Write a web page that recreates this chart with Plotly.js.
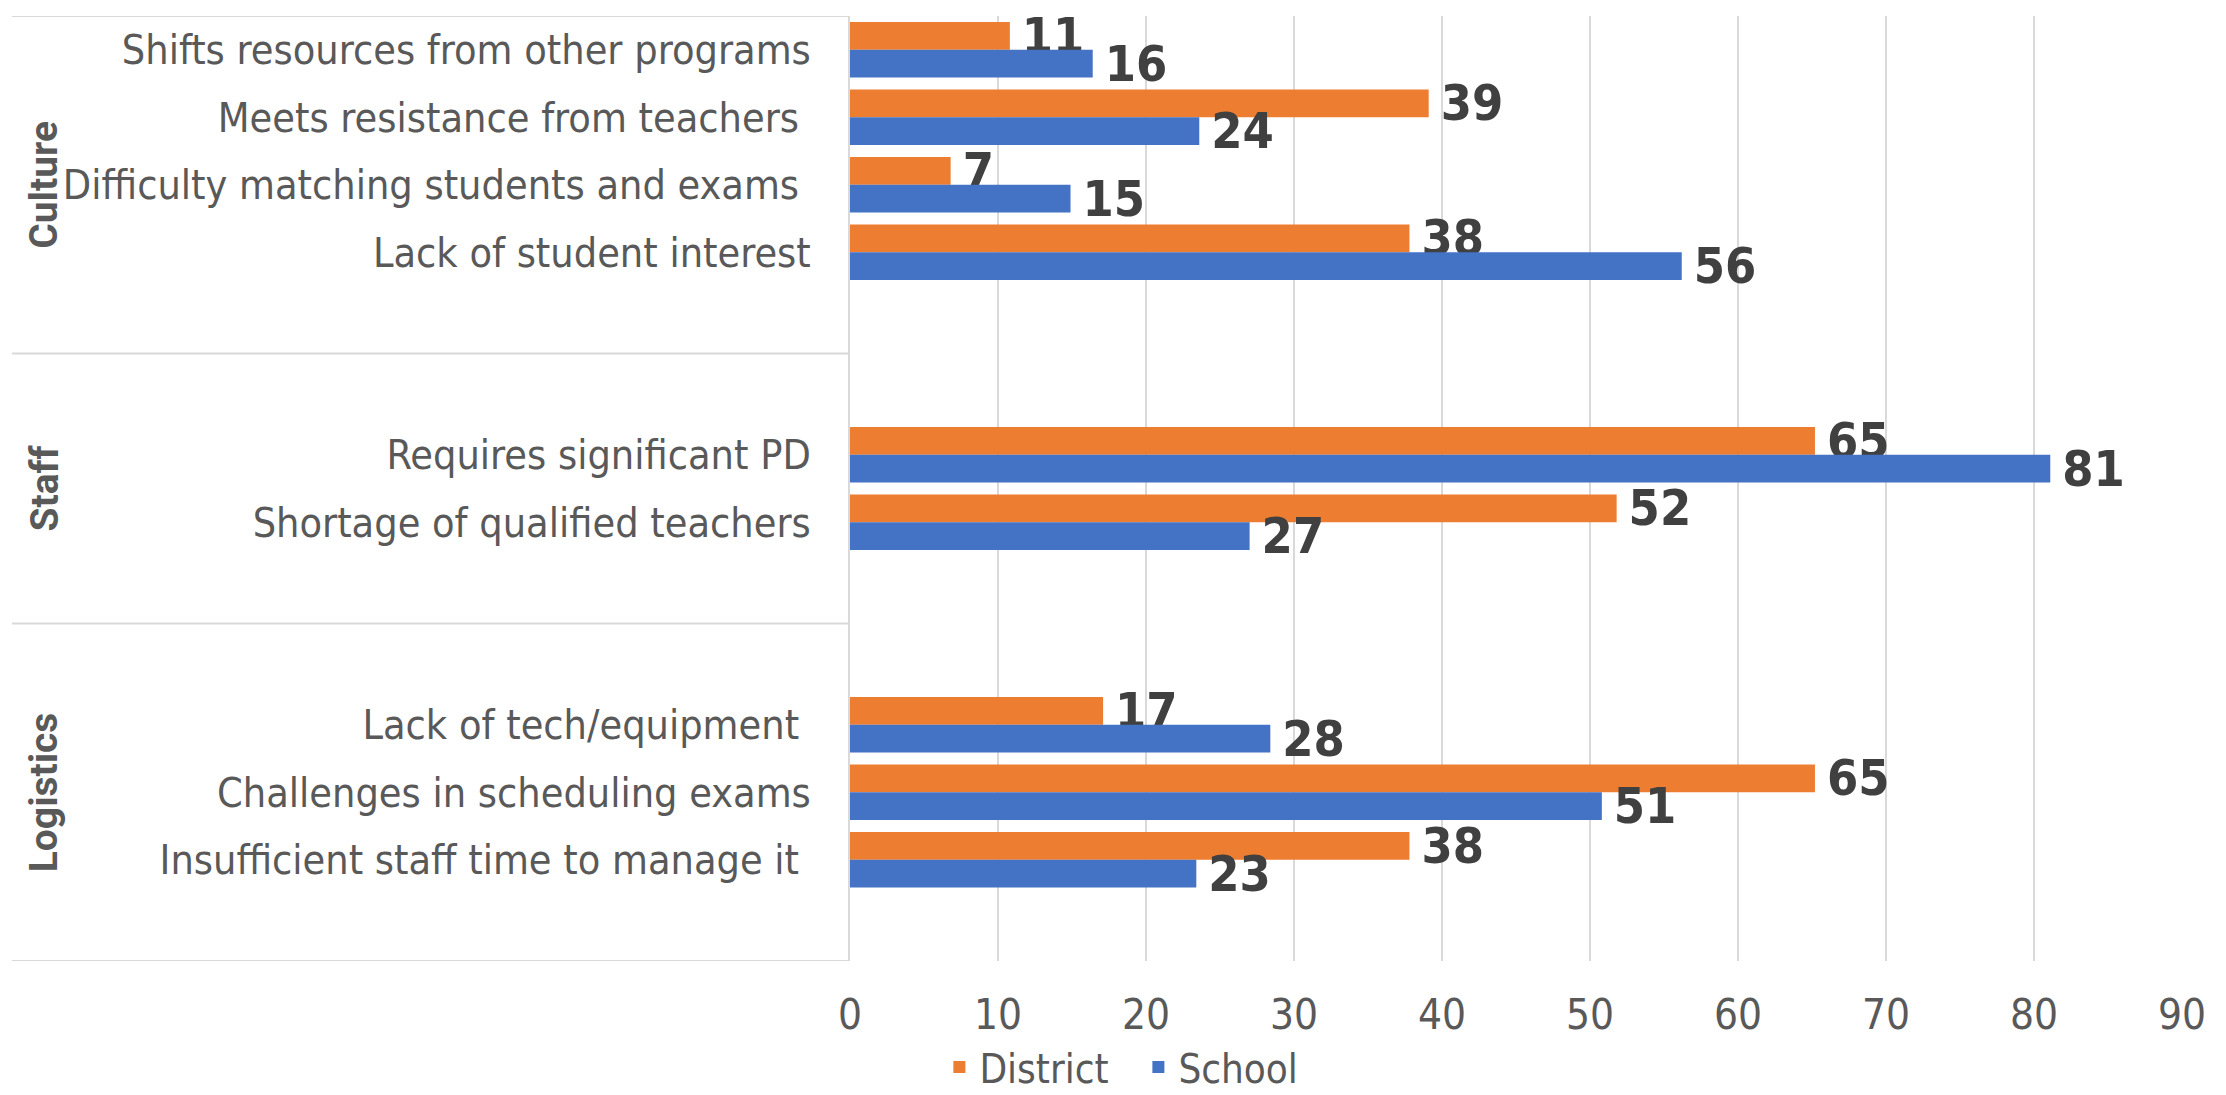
<!DOCTYPE html>
<html>
<head>
<meta charset="utf-8">
<script src="https://cdn.plot.ly/plotly-3.0.1.min.js"></script>
<style>
  html, body { margin: 0; padding: 0; background: #ffffff; }
  #chart { width: 2226px; height: 1095px; }
</style>
</head>
<body>
<div id="chart"></div>
<script>
// ---- data ----
const categories = [
  "Shifts resources from other programs",
  "Meets resistance from teachers\u00a0",
  "Difficulty matching students and exams\u00a0",
  "Lack of student interest",
  "Requires significant PD",
  "Shortage of qualified teachers",
  "Lack of tech/equipment\u00a0",
  "Challenges in scheduling exams",
  "Insufficient staff time to manage it\u00a0"
];
const groups = ["Culture", "Culture", "Culture", "Culture", "Staff", "Staff", "Logistics", "Logistics", "Logistics"];
const groupNames = ["Culture", "Staff", "Logistics"];
const seriesNames = ["District", "School"];
const district = [10.8, 39.1, 6.8, 37.8, 65.2, 51.8, 17.1, 65.2, 37.8];
const school   = [16.4, 23.6, 14.9, 56.2, 81.1, 27.0, 28.4, 50.8, 23.4];
const xTicks = [0, 10, 20, 30, 40, 50, 60, 70, 80, 90];

// ---- layout of category slots (blank rows between groups, as in the original) ----
const padBefore = {Culture: 0, Staff: 1, Logistics: 1};
const padAfter  = {Culture: 1, Staff: 1, Logistics: 1};
const yPos = [];
const groupSpan = {};
let slot = 0;
groupNames.forEach(g => {
  const start = slot;
  slot += padBefore[g];
  groups.forEach((gg, i) => { if (gg === g) { yPos[i] = slot; slot += 1; } });
  slot += padAfter[g];
  groupSpan[g] = [start - 0.5, slot - 0.5];
});
const nSlots = slot;

const FONT = "'DejaVu Sans Condensed', 'Liberation Sans Narrow', 'Liberation Sans', sans-serif";
const GREY = "#595959";
const LINE = "#d9d9d9";

const labelTpl = "\u2009%{x:.0f}";
function barTrace(name, values, color) {
  return {
    type: "bar", orientation: "h", name: name,
    x: values, y: yPos,
    marker: {color: color},
    texttemplate: labelTpl, textposition: "outside", constraintext: "none", cliponaxis: false,
    textfont: {family: FONT, size: 50, color: "#404040", weight: "bold"},
    hoverinfo: "x"
  };
}
const traces = [
  barTrace(seriesNames[0], district, "#ED7D31"),
  barTrace(seriesNames[1], school, "#4472C4")
];

const W = 2226, H = 1095;
const plotL = 850, plotW = 1332, plotT = 16, plotB = 134;
const plotH = H - plotT - plotB;
const leftPaper = (12 - plotL) / plotW;
const groupLabelX = (44 - plotL) / plotW;

const shapes = [];
const dividerYs = [-0.5];
groupNames.forEach(g => dividerYs.push(groupSpan[g][1]));
dividerYs.forEach(yv => {
  shapes.push({type: "line", xref: "paper", yref: "y", x0: leftPaper, x1: 0, y0: yv, y1: yv,
               line: {color: LINE, width: 2}});
});

const annotations = groupNames.map(g => ({
  xref: "paper", yref: "y", x: groupLabelX, y: (groupSpan[g][0] + groupSpan[g][1]) / 2,
  text: "<b>" + g + "</b>", showarrow: false, textangle: -90,
  xanchor: "center", yanchor: "middle",
  font: {family: "Roboto, 'Liberation Sans', sans-serif", size: 39, color: GREY}
}));

const layout = {
  width: W, height: H,
  margin: {l: plotL, r: W - plotL - plotW, t: plotT, b: plotB, pad: 0, autoexpand: false},
  paper_bgcolor: "#ffffff", plot_bgcolor: "#ffffff",
  barmode: "group", bargap: 0.18, bargroupgap: 0,
  showlegend: true,
  legend: {
    orientation: "h", x: 0.2165, xanchor: "center", y: -(1067 - (H - plotB)) / plotH, yanchor: "middle",
    font: {family: FONT, size: 40, color: GREY}, traceorder: "normal",
    itemwidth: 30, entrywidth: 154, entrywidthmode: "pixels", tracegroupgap: 0,
    bgcolor: "rgba(0,0,0,0)"
  },
  xaxis: {
    range: [0, 90], tickvals: xTicks, ticktext: xTicks.map(String),
    showgrid: true, gridcolor: LINE, gridwidth: 1.5, zeroline: false,
    showline: false, ticks: "", ticklabelstandoff: 25,
    tickfont: {family: FONT, size: 42, color: GREY}, fixedrange: true
  },
  yaxis: {
    range: [nSlots - 0.5, -0.5], tickvals: yPos, ticktext: categories,
    showgrid: false, zeroline: false, showline: true, linecolor: LINE, linewidth: 2,
    ticks: "", ticklabelstandoff: 29,
    tickfont: {family: FONT, size: 41, color: GREY}, fixedrange: true
  },
  shapes: shapes,
  annotations: annotations,
  font: {family: FONT, color: GREY}
};

Plotly.newPlot("chart", traces, layout, {displayModeBar: false, staticPlot: true});
</script>
</body>
</html>
